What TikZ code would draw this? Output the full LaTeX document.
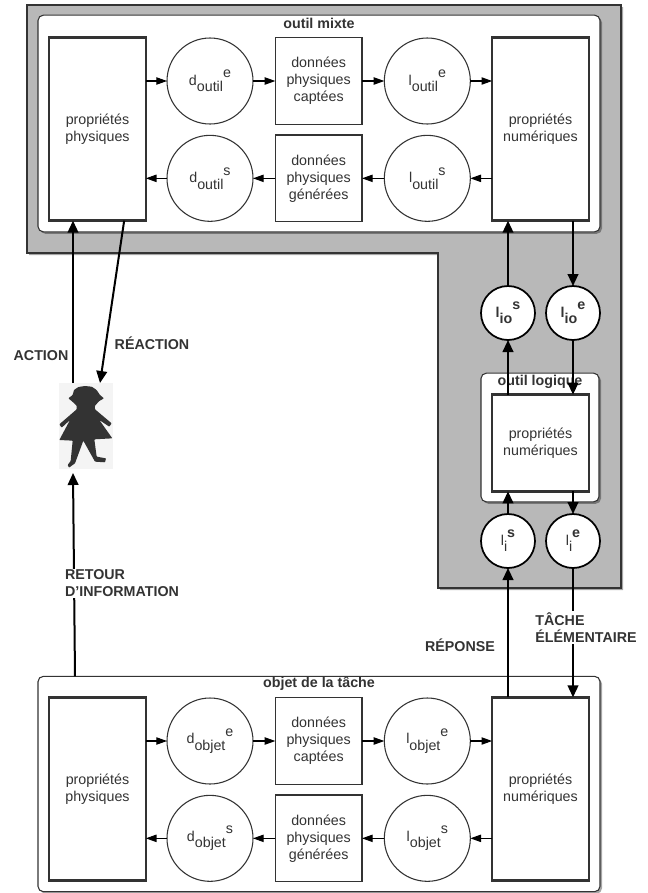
\documentclass[tikz,border=0pt]{standalone}
\usepackage{fontspec}
\setmainfont{Liberation Sans}
\usepackage{tikz}
\usetikzlibrary{arrows.meta,shadows}

\newcommand{\sigle}[3]{#1\raisebox{-5pt}{#2}\raisebox{5.6pt}{#3}}

\definecolor{fondgris}{HTML}{B8B8B8}
\definecolor{fondfig}{HTML}{F4F4F4}
\definecolor{figsombre}{HTML}{333333}
\definecolor{trait}{HTML}{333333}

\begin{document}
\begin{tikzpicture}[x=.75pt,y=-.75pt,
                    every node/.style={font=\fontsize{10.7}{12.8}\selectfont,text=trait,align=center,outer sep=0pt},
                    ombre/.style={drop shadow={shadow xshift=1.5pt,shadow yshift=-1.5pt,opacity=.35,fill=black}},
                    zone node/.style={rectangle,rounded corners=4pt,draw=trait,fill=white,line width=.8pt,ombre},
                    prop node/.style={rectangle,draw=trait,fill=white,line width=1.9pt,minimum width=72.5pt,minimum height=137.5pt},
                    data node/.style={rectangle,draw=trait,fill=white,line width=.8pt,minimum size=65pt,inner sep=0pt},
                    main node/.style={circle,draw=trait,fill=white,line width=.8pt,minimum size=64.5pt,inner sep=0pt},
                    io node/.style={circle,draw=black,fill=white,line width=1.3pt,minimum size=40.5pt,inner sep=0pt,font=\fontsize{10.7}{12.8}\selectfont\bfseries},
                    title node/.style={font=\fontsize{10.7}{12.8}\selectfont\bfseries,inner sep=0pt},
                    flow node/.style={font=\fontsize{10.7}{12.8}\selectfont\bfseries,align=left,inner sep=1pt},
                    small arrow/.style={draw=black,line width=.8pt,-{Triangle[length=8pt,width=5.5pt]}},
                    big arrow/.style={draw=black,line width=1.5pt,-{Triangle[length=9pt,width=8pt]}}]

  \useasboundingbox (0,0) rectangle (648,893);

  % fond gris en L
  \draw[fill=fondgris,draw=trait,line width=.9pt,ombre]
    (27,5) -- (621,5) -- (621,588) -- (438,588) -- (438,253) -- (27,253) -- cycle;

  % zones
  \node[zone node,minimum width=421.5pt,minimum height=162.5pt] (mixte) at (319,123.5) {};
  \node[zone node,minimum width=88.5pt,minimum height=96.5pt] (logique) at (540,437.5) {};
  \node[zone node,minimum width=421.5pt,minimum height=161.5pt] (objet) at (319,784) {};

  \node[title node] (tmixte) at (319,23) {outil mixte};
  \node[title node] (tlogique) at (540,382) {outil logique};
  \node[title node] (tobjet) at (319,684) {objet de la tâche};

  % outil mixte
  \node[prop node] (pp1) at (97.5,129) {propriétés\\physiques};
  \node[prop node] (pn1) at (540.5,129) {propriétés\\numériques};
  \node[main node] (de1) at (210,81) {\sigle{d}{outil}{e}};
  \node[data node] (dc1) [right of=de1,node distance=81.5pt] {données\\physiques\\captées};
  \node[main node] (le1) [right of=dc1,node distance=81.5pt] {\sigle{l}{outil}{e}};
  \node[main node] (ds1) [below of=de1,node distance=73pt] {\sigle{d}{outil}{s}};
  \node[data node] (dg1) [right of=ds1,node distance=81.5pt] {données\\physiques\\générées};
  \node[main node] (ls1) [right of=dg1,node distance=81.5pt] {\sigle{l}{outil}{s}};

  % outil logique
  \node[prop node,minimum height=72.5pt] (pn2) at (540.5,443) {propriétés\\numériques};
  \node[io node] (lios) at (508,313) {\sigle{l}{io}{s}};
  \node[io node] (lioe) [right of=lios,node distance=48.75pt] {\sigle{l}{io}{e}};
  \node[io node,font=\fontsize{10.7}{12.8}\selectfont] (lis) at (508,541) {\sigle{l}{i}{\bfseries s}};
  \node[io node,font=\fontsize{10.7}{12.8}\selectfont] (lie) [right of=lis,node distance=48.75pt] {\sigle{l}{i}{\bfseries e}};

  % objet de la tache
  \node[prop node] (pp3) at (97.5,789) {propriétés\\physiques};
  \node[prop node] (pn3) at (540.5,789) {propriétés\\numériques};
  \node[main node] (de3) at (210,741) {\sigle{d}{objet}{e}};
  \node[data node] (dc3) [right of=de3,node distance=81.5pt] {données\\physiques\\captées};
  \node[main node] (le3) [right of=dc3,node distance=81.5pt] {\sigle{l}{objet}{e}};
  \node[main node] (ds3) [below of=de3,node distance=73pt] {\sigle{d}{objet}{s}};
  \node[data node] (dg3) [right of=ds3,node distance=81.5pt] {données\\physiques\\générées};
  \node[main node] (ls3) [right of=dg3,node distance=81.5pt] {\sigle{l}{objet}{s}};

  % personne
  \node[rectangle,fill=fondfig,minimum width=40.5pt,minimum height=64.5pt,inner sep=0pt] (fig) at (86,426) {};
  \begin{scope}[shift={(50,375)},scale=.3333]
    \fill[figsombre,rounded corners=.5pt]
      (105,33) -- (125,35) -- (140,45) -- (150,60) -- (162,70) -- (148,78) -- (135,92) -- (135,103)
      -- (185,145) -- (178,155) -- (148,135) -- (187,190) -- (133,193) -- (140,245)
      -- (168,250) -- (165,262) -- (135,260) -- (100,197) -- (75,265)
      -- (57,278) -- (53,270) -- (62,258) -- (68,197) -- (28,195) -- (60,135)
      -- (35,158) -- (28,148) -- (80,103) -- (80,92) -- (65,78) -- (55,70) -- (68,60)
      -- (72,45) -- (85,36) -- cycle;
  \end{scope}

  \path[every edge/.style={small arrow}]
    (pp1.east |- de1) edge (de1)
    (de1) edge (dc1)
    (dc1) edge (le1)
    (le1) edge (pn1.west |- le1)
    (pn1.west |- ls1) edge (ls1)
    (ls1) edge (dg1)
    (dg1) edge (ds1)
    (ds1) edge (pp1.east |- ds1)
    (pp3.east |- de3) edge (de3)
    (de3) edge (dc3)
    (dc3) edge (le3)
    (le3) edge (pn3.west |- le3)
    (pn3.west |- ls3) edge (ls3)
    (ls3) edge (dg3)
    (dg3) edge (ds3)
    (ds3) edge (pp3.east |- ds3);

  \path[every edge/.style={big arrow}]
    (lios) edge (lios |- pn1.south)
    (lios |- pn2.north) edge (lios)
    (lis) edge (lis |- pn2.south)
    (lis |- pn3.north) edge (lis)
    (lioe |- pn1.south) edge (lioe)
    (lioe) edge (lioe |- pn2.north)
    (lie |- pn2.south) edge (lie)
    (lie) edge (lie |- pn3.north)
    ([xshift=-9.75pt]fig.north) edge ([xshift=-9.75pt]fig.north |- pp1.south)
    ([xshift=20pt]pp1.south) edge ([xshift=10.5pt]fig.north)
    ([xshift=-183pt]objet.north) edge ([xshift=-9.75pt,yshift=-3pt]fig.south);

  \node[flow node] (action) at (41,356) {ACTION};
  \node[flow node] (reaction) at (152,343) {RÉACTION};
  \node[flow node,fill=white] (retour) at (122,583.5) {RETOUR\\D'INFORMATION};
  \node[flow node,fill=white] (tache) at (586,627.5) {TÂCHE\\ÉLÉMENTAIRE};
  \node[flow node] (reponse) at (460,645) {RÉPONSE};
\end{tikzpicture}
\end{document}
